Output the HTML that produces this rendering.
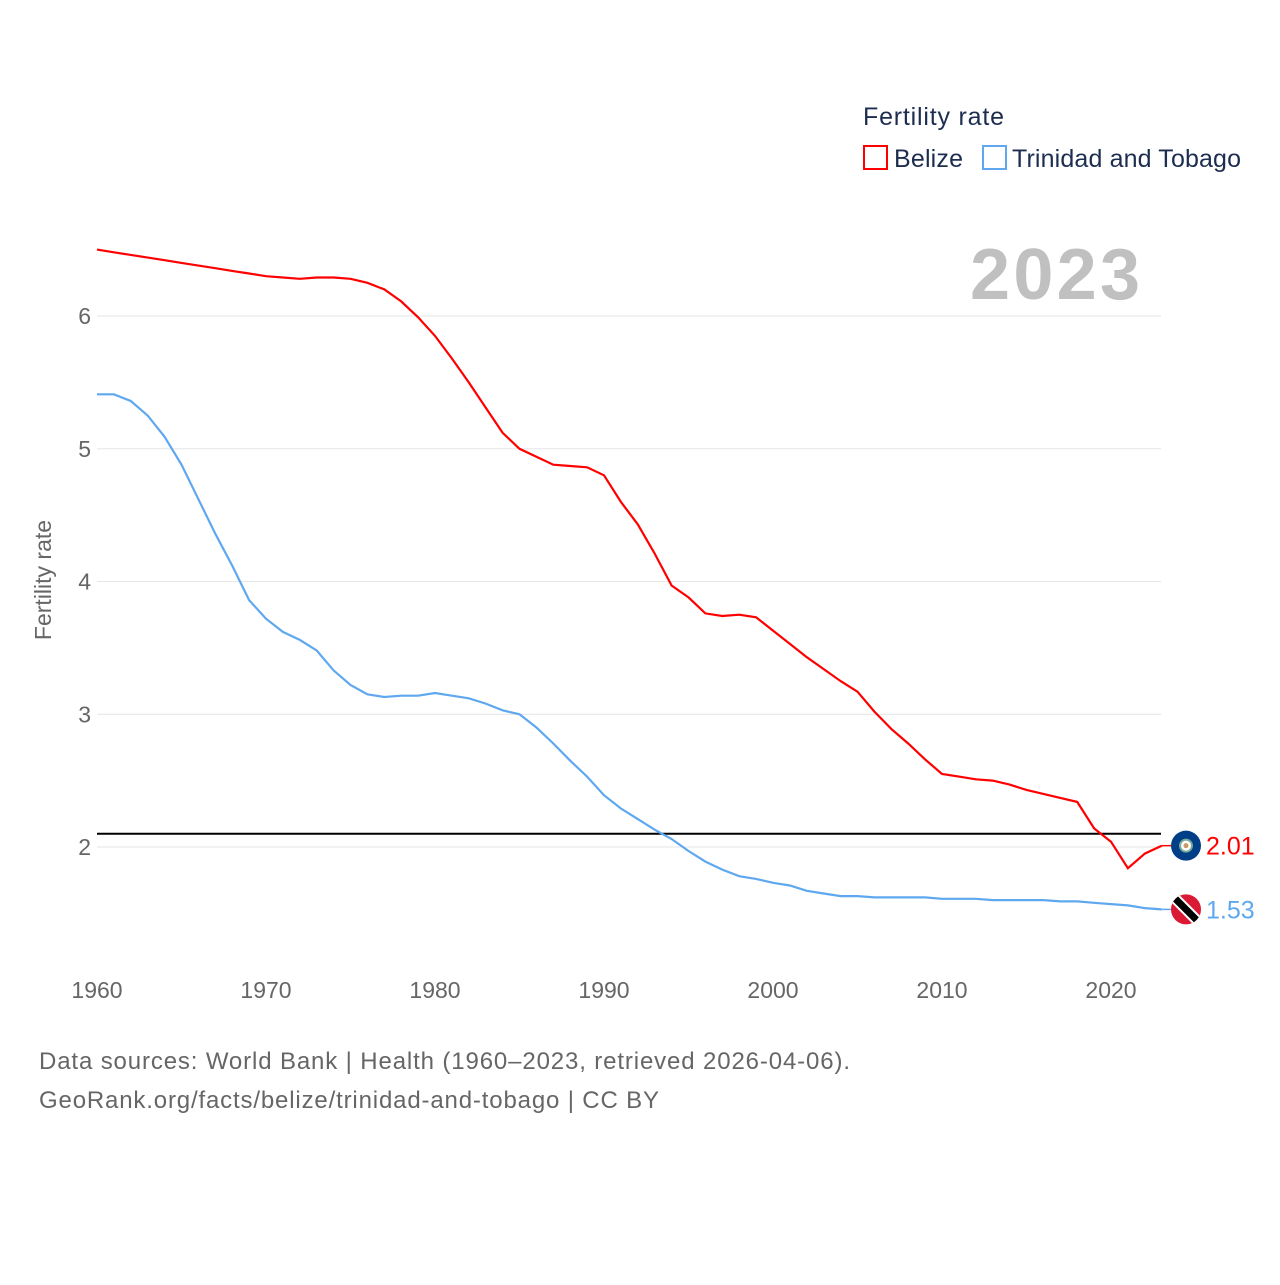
<!DOCTYPE html>
<html><head><meta charset="utf-8"><style>
body{margin:0;background:#fff;font-family:"Liberation Sans",sans-serif}
svg text{font-family:"Liberation Sans",sans-serif}
</style></head><body>
<svg id="c" width="1280" height="1280" xmlns="http://www.w3.org/2000/svg">
<text x="863" y="125" font-size="25" fill="#1d2d50" textLength="141">Fertility rate</text>
<g><rect x="864" y="146" width="23" height="23" fill="none" stroke="#f00" stroke-width="2"/><text x="894" y="167" font-size="25" fill="#1d2d50" textLength="69">Belize</text></g>
<g><rect x="983" y="146" width="23" height="23" fill="none" stroke="#5fa8ef" stroke-width="2"/><text x="1012" y="167" font-size="25" fill="#1d2d50" textLength="229">Trinidad and Tobago</text></g>
<text x="970" y="299" font-size="72" font-weight="bold" fill="#c0c0c0" textLength="170">2023</text>
<text transform="translate(51,580) rotate(-90)" font-size="23" fill="#666" text-anchor="middle">Fertility rate</text>
<g id="grid"></g><g id="lines"></g>
<text x="39" y="1069" font-size="24" fill="#666" textLength="811">Data sources: World Bank | Health (1960–2023, retrieved 2026-04-06).</text>
<text x="39" y="1108" font-size="24" fill="#666" textLength="620">GeoRank.org/facts/belize/trinidad-and-tobago | CC BY</text>
</svg>
<script>
const years=[];for(let y=1960;y<=2023;y++)years.push(y);
const belize=[6.50,6.48,6.46,6.44,6.42,6.40,6.38,6.36,6.34,6.32,6.30,6.29,6.28,6.29,6.29,6.28,6.25,6.20,6.11,5.99,5.85,5.68,5.50,5.31,5.12,5.00,4.94,4.88,4.87,4.86,4.80,4.60,4.43,4.21,3.97,3.88,3.76,3.74,3.75,3.73,3.63,3.53,3.43,3.34,3.25,3.17,3.02,2.89,2.78,2.66,2.55,2.53,2.51,2.50,2.47,2.43,2.40,2.37,2.34,2.14,2.04,1.84,1.95,2.01];
const trinidad=[5.41,5.41,5.36,5.25,5.09,4.88,4.62,4.36,4.12,3.86,3.72,3.62,3.56,3.48,3.33,3.22,3.15,3.13,3.14,3.14,3.16,3.14,3.12,3.08,3.03,3.00,2.90,2.78,2.65,2.53,2.39,2.29,2.21,2.13,2.06,1.97,1.89,1.83,1.78,1.76,1.73,1.71,1.67,1.65,1.63,1.63,1.62,1.62,1.62,1.62,1.61,1.61,1.61,1.60,1.60,1.60,1.60,1.59,1.59,1.58,1.57,1.56,1.54,1.53];
const yTicks=[2,3,4,5,6];
const xTicks=[1960,1970,1980,1990,2000,2010,2020];
const refValue=2.1;
const X=y=>97+(y-1960)*16.9, Y=v=>847-(v-2)*132.75;
const NS="http://www.w3.org/2000/svg";
function mk(t,a,p){const e=document.createElementNS(NS,t);for(const k in a)e.setAttribute(k,a[k]);p.appendChild(e);return e;}
const g=document.getElementById('grid'),L=document.getElementById('lines');
yTicks.forEach(v=>{const l=mk('line',{x1:97,x2:1161,y1:Y(v),y2:Y(v),stroke:'#e6e6e6'},g);


const t=mk('text',{x:91,y:Y(v)+8,'font-size':23,fill:'#666','text-anchor':'end'},g);t.textContent=v;

});
xTicks.forEach(v=>{const t=mk('text',{x:X(v),y:998,'font-size':23,fill:'#666','text-anchor':'middle'},g);t.textContent=v;

});
const r=mk('line',{x1:97,x2:1161,y1:Y(refValue),y2:Y(refValue),stroke:'#000','stroke-width':2},L);


function series(vals,col,name){const p=mk('path',{d:vals.map((v,i)=>(i?'L':'M')+X(years[i]).toFixed(1)+','+Y(v).toFixed(1)).join(''),fill:'none',stroke:col,'stroke-width':2.2},L);


const last=vals[vals.length-1],yy=Y(last);
mk('line',{x1:X(2023),x2:1172,y1:yy,y2:yy,stroke:col,'stroke-width':1.5},L);
const t=mk('text',{x:1206,y:yy+9,'font-size':25,fill:col},L);t.textContent=last.toFixed(2);


return yy;}
const by=series(belize,'#f00','belize'),ty=series(trinidad,'#5fa8ef','trinidad');
const f1=mk('g',{},L);


mk('circle',{cx:1186,cy:by,r:15,fill:'#003f87'},f1);mk('circle',{cx:1186,cy:by,r:6,fill:'#fff',stroke:'#7a9',"stroke-width":2},f1);mk('circle',{cx:1186,cy:by,r:2.5,fill:'#c96'},f1);
const f2=mk('g',{},L);


const cp=mk('clipPath',{id:'cf'},f2);mk('circle',{cx:1186,cy:ty,r:15},cp);
mk('circle',{cx:1186,cy:ty,r:15,fill:'#da1a35'},f2);
mk('line',{x1:1170,y1:ty-16,x2:1202,y2:ty+16,stroke:'#fff','stroke-width':11,'clip-path':'url(#cf)'},f2);
mk('line',{x1:1170,y1:ty-16,x2:1202,y2:ty+16,stroke:'#000','stroke-width':7,'clip-path':'url(#cf)'},f2);
</script></body></html>
